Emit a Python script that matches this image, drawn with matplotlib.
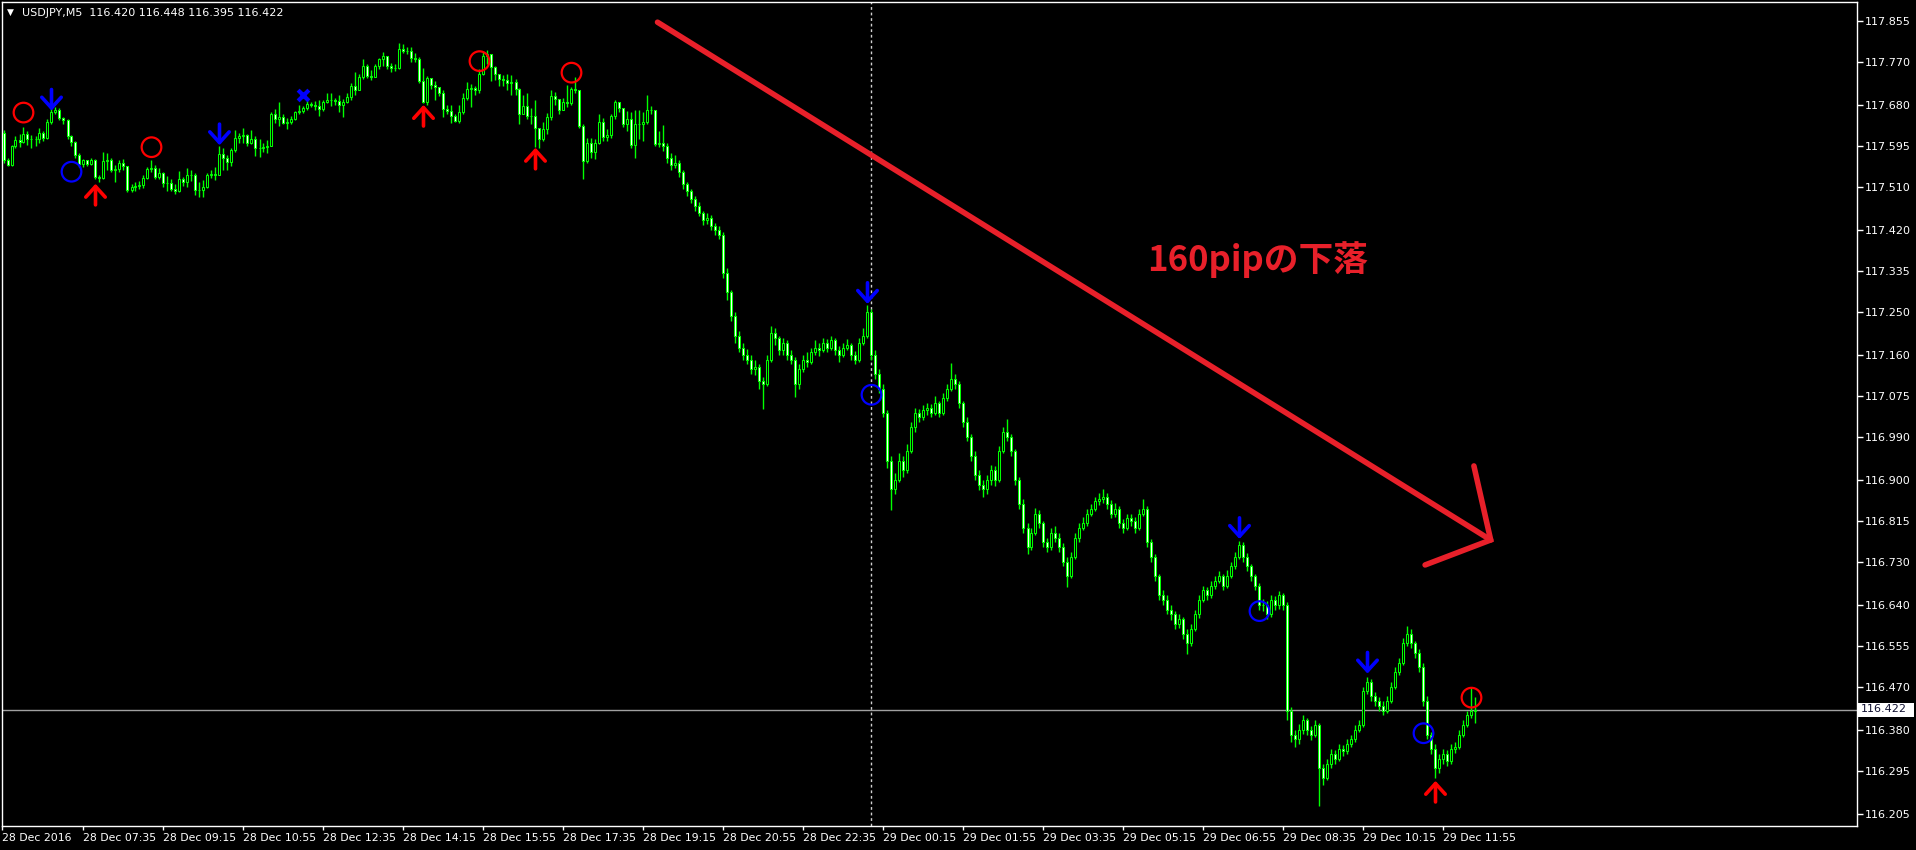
import matplotlib
matplotlib.use("Agg")
import matplotlib.pyplot as plt
from matplotlib.patches import Rectangle
import numpy as np

W, H = 1916, 850
BASE = 116.0
SCALE = 1000.0  # prices stored in points above 116.000

first_open = 1621
closes = [
    1565,1555,1594,1606,1603,1620,1608,1609,1608,1622,
    1611,1645,1665,1669,1652,1648,1615,1602,1576,1558,
    1565,1558,1565,1530,1527,1564,1566,1544,1546,1560,
    1552,1503,1510,1512,1513,1527,1546,1548,1530,1538,
    1518,1518,
    1504,1501,1526,1520,1534,1535,1502,1502,1510,1534,
    1537,1535,1577,1569,1561,1586,1612,1615,1617,1600,
    1609,1590,1590,1592,1595,1662,1651,1655,1643,1645,
    1650,1666,1668,1673,1682,1680,1678,1671,1687,1691,
    1690,
    1688,1680,1687,1696,1719,1711,1737,1761,1741,1739,
    1761,1775,1781,1760,1756,1756,1797,1793,1793,1777,
    1775,1730,1687,1735,1721,1718,1704,1671,1668,1657,
    1647,1666,1694,1712,1715,1710,1744,1782,1785,1758,
    1744,1733,1732,1726,1728,1714,1661,1677,1657,1657,
    1631,1610,1629,1655,1698,1693,1669,1687,1683,1712,
    1710,1636,1564,1600,1583,1600,1645,1614,1618,1657,
    1686,1673,1641,1650,1597,1641,1640,1645,1669,1670,
    1599,1600,1594,
    1570,1555,1560,1540,1515,1500,1485,1470,1455,1440,
    1445,1428,1420,1410,1330,1290,1240,1200,1175,1160,
    1150,1130,1135,1105,1100,1150,1205,1195,1170,1185,
    1160,1150,1100,1130,1150,1145,1165,1175,1170,1185,
    1175,1190,1170,1160,1175,1180,1160,1150,1185,1200,
    1250,1160,1120,1090,1040,940,880,900,940,920,
    960,1010,1040,1030,1045,1050,1040,1060,1040,1070,
    1090,1110,1100,1060,1020,990,950,910,890,880,
    900,920,900,960,1000,990,960,900,850,800,
    760,790,830,810,770,760,790,780,760,730,
    700,740,780,800,810,830,840,855,860,865,
    850,830,840,810,800,820,815,800,830,840,
    770,740,700,660,650,630,620,600,610,580,
    560,590,620,650,670,660,680,690,700,680,
    700,720,740,765,740,720,700,680,640,640,
    620,650,640,660,640,420,370,360,380,400,
    380,370,390,300,280,310,330,320,340,335,
    350,360,380,390,460,480,450,440,430,420,
    440,470,500,520,560,580,560,540,510,440,
    370,340,300,320,330,315,340,345,370,390,
    410,420,422,
]
highs = [
    1628,1570,1597,1615,1620,1635,1625,1618,1615,1632,
    1625,1650,1675,1676,1673,1655,1650,1618,1605,1580,
    1568,1566,1570,1568,1535,1583,1580,1570,1555,1565,
    1567,1545,1515,1520,1522,1535,1550,1565,1555,1548,
    1540,1532,
    1525,1515,1542,1530,1549,1544,1538,1520,1523,1538,
    1545,1550,1594,1590,1575,1590,1628,1622,1632,1620,
    1628,1615,1610,1600,1607,1665,1672,1685,1660,1652,
    1656,1668,1680,1678,1690,1685,1688,1690,1690,1704,
    1705,
    1695,1700,1692,1705,1725,1749,1745,1775,1765,1752,
    1765,1778,1790,1782,1768,1766,1809,1806,1800,1800,
    1787,1780,1756,1740,1735,1730,1716,1710,1680,1680,
    1660,1680,1705,1728,1723,1720,1755,1790,1795,1783,
    1760,1745,1742,1745,1742,1734,1716,1700,1704,1673,
    1690,1632,1645,1663,1710,1707,1690,1695,1721,1718,
    1738,1708,1640,1612,1612,1610,1660,1652,1630,1660,
    1691,1685,1672,1668,1665,1670,1670,1665,1700,1678,
    1670,1625,1638,
    1600,1580,1575,1565,1545,1520,1505,1490,1478,1460,
    1455,1450,1435,1428,1415,1340,1295,1250,1210,1185,
    1172,1160,1150,1140,1115,1160,1220,1215,1200,1195,
    1190,1170,1155,1140,1160,1165,1175,1190,1185,1195,
    1192,1200,1195,1178,1185,1192,1185,1168,1195,1215,
    1263,1255,1170,1130,1100,1045,950,915,955,950,
    975,1020,1050,1048,1055,1060,1058,1075,1065,1080,
    1100,1143,1120,1105,1065,1030,995,960,920,900,
    910,930,928,970,1009,1026,995,965,905,860,
    810,800,842,838,815,780,800,805,790,768,
    740,750,790,810,822,840,850,865,872,881,
    872,858,852,845,818,830,828,822,840,860,
    845,778,745,705,670,660,640,628,622,615,
    590,600,630,660,680,678,690,700,710,705,
    712,730,750,772,770,748,725,705,685,652,
    648,660,658,668,665,645,428,380,392,410,
    405,388,400,395,310,320,340,338,350,348,
    360,370,390,400,470,490,485,458,448,440,
    450,480,510,530,572,597,590,565,548,520,
    450,375,350,330,340,338,350,355,380,400,
    420,470,448,
]
lows = [
    1560,1552,1553,1590,1592,1600,1597,1590,1595,1600,
    1605,1608,1640,1660,1648,1640,1610,1595,1570,1550,
    1550,1553,1555,1525,1520,1525,1545,1540,1520,1540,
    1545,1498,1498,1500,1505,1508,1525,1540,1525,1525,
    1510,1501,
    1500,1494,1499,1512,1510,1522,1492,1488,1489,1508,
    1528,1523,1534,1545,1545,1553,1582,1600,1600,1595,
    1598,1574,1572,1583,1580,1594,1643,1636,1640,1629,
    1640,1648,1660,1663,1669,1675,1670,1657,1667,1683,
    1678,
    1680,1666,1655,1683,1690,1700,1710,1734,1735,1732,
    1738,1755,1760,1754,1748,1750,1755,1788,1786,1770,
    1770,1725,1684,1680,1714,1690,1699,1655,1660,1643,
    1645,1643,1660,1690,1676,1700,1705,1742,1765,1730,
    1732,1720,1720,1710,1700,1700,1640,1660,1650,1640,
    1593,1590,1605,1620,1648,1680,1660,1670,1676,1680,
    1705,1632,1525,1560,1570,1568,1598,1605,1605,1612,
    1650,1665,1635,1625,1590,1570,1610,1605,1640,1660,
    1595,1592,1585,
    1560,1545,1548,1530,1505,1490,1475,1460,1448,1430,
    1432,1420,1410,1400,1320,1275,1230,1185,1165,1150,
    1140,1120,1118,1090,1047,1095,1145,1180,1160,1160,
    1150,1140,1072,1090,1125,1135,1140,1160,1158,1165,
    1165,1170,1160,1145,1155,1170,1150,1140,1145,1180,
    1195,1150,1110,1080,1030,925,838,870,895,905,
    915,955,1000,1020,1025,1035,1030,1035,1030,1035,
    1065,1085,1090,1050,1010,980,940,900,878,865,
    870,890,888,895,955,980,950,890,840,790,
    745,755,785,800,760,750,755,770,750,720,
    678,695,735,770,795,805,825,835,848,852,
    840,820,822,800,790,795,805,790,795,825,
    760,730,690,650,640,620,608,590,592,570,
    538,555,585,612,645,650,655,672,685,670,
    675,695,715,735,730,710,690,670,630,628,
    610,615,630,632,630,400,355,345,350,372,
    370,358,365,221,265,275,300,310,315,325,
    330,345,355,375,385,455,440,430,420,410,
    415,435,465,495,515,555,550,530,500,430,
    360,330,280,290,310,305,310,332,340,365,
    385,405,395,
]

# signal markers (bar index, price in points)
red_circle_bars = [5, 37, 119, 142, 367]
red_circle_pts = [1664, 1592, 1771, 1747, 447]
blue_circle_bars = [17, 217, 314, 355]
blue_circle_pts = [1541, 1077, 627, 373]
blue_down_bars = [12, 54, 216, 309, 341]
blue_down_tips = [1668, 1596, 1266, 777, 497]
red_up_bars = [23, 105, 133, 358]
red_up_tips = [1516, 1680, 1591, 274]
blue_x_bars = [75]
blue_x_pts = [1700]

# hand-drawn trend arrow (bar index, price in points)
trend_start = (163.5, 1852)
trend_end = (371.8, 775)
head_a = (367.6, 929)
head_b = (355.4, 723)
annot_pos = (313.5, 1359)
annot_text = "160pipの下落"

y_ticks = [117.855, 117.770, 117.680, 117.595, 117.510, 117.420, 117.335,
           117.250, 117.160, 117.075, 116.990, 116.900, 116.815, 116.730,
           116.640, 116.555, 116.470, 116.380, 116.295, 116.205]
x_tick_bars = [-0.375, 20, 40, 60, 80, 100, 120, 140, 160, 180, 200, 220,
               240, 260, 280, 300, 320, 340, 360]
x_tick_labels = ["28 Dec 2016", "28 Dec 07:35", "28 Dec 09:15", "28 Dec 10:55",
                 "28 Dec 12:35", "28 Dec 14:15", "28 Dec 15:55", "28 Dec 17:35",
                 "28 Dec 19:15", "28 Dec 20:55", "28 Dec 22:35", "29 Dec 00:15",
                 "29 Dec 01:55", "29 Dec 03:35", "29 Dec 05:15", "29 Dec 06:55",
                 "29 Dec 08:35", "29 Dec 10:15", "29 Dec 11:55"]
day_separator_bar = 217
last_price = 116.422
header = "USDJPY,M5  116.420 116.448 116.395 116.422"

assert len(closes) == len(highs) == len(lows)

def P(v):
    return BASE + np.asarray(v, dtype=float) / SCALE

c = P(closes)
o = np.concatenate([[P(first_open)], c[:-1]])
h = np.maximum(P(highs), np.maximum(o, c))
l = np.minimum(P(lows), np.minimum(o, c))
x = np.arange(len(c))

LIME = "#00ff00"
fig = plt.figure(figsize=(W / 100, H / 100), dpi=100, facecolor="black")
ax = fig.add_axes([2 / W, 1 - 826 / H, (1856.7 - 2) / W, (826 - 2) / H], facecolor="black")
ax.set_xlim(-0.375, 463.3)
ax.set_ylim(116.180, 117.894)

for s in ax.spines.values():
    s.set_color("white")
    s.set_linewidth(1)

# day separator & current price line
ax.axvline(day_separator_bar, color="#d0d0d0", lw=1, ls=(0, (2, 2)), zorder=1)
ax.axhline(last_price, color="#a0a0a0", lw=1, zorder=1)

# candles
ax.vlines(x, l, h, color=LIME, lw=1, zorder=2)
up = c > o
ax.bar(x, np.abs(c - o), bottom=np.minimum(o, c), width=0.5,
       color=["black" if u else "white" for u in up],
       edgecolor=LIME, linewidth=0.75, zorder=3)

# signal markers
ax.scatter(red_circle_bars, P(red_circle_pts), s=200, facecolors="none",
           edgecolors="#ff0000", linewidths=1.6, zorder=5)
ax.scatter(blue_circle_bars, P(blue_circle_pts), s=200, facecolors="none",
           edgecolors="#0000ff", linewidths=1.6, zorder=5)
ax.scatter(blue_x_bars, P(blue_x_pts), s=60, marker="x", color="#0000ff",
           linewidths=3, zorder=5)
arrow_len = 44
for b, t in zip(blue_down_bars, blue_down_tips):
    ax.annotate("", xy=(b, P(t)), xytext=(b, P(t + arrow_len)),
                arrowprops=dict(arrowstyle="->,head_length=0.55,head_width=0.5",
                                color="#0000ff", lw=2.6, shrinkA=0, shrinkB=0,
                                mutation_scale=14), zorder=6)
for b, t in zip(red_up_bars, red_up_tips):
    ax.annotate("", xy=(b, P(t)), xytext=(b, P(t - arrow_len)),
                arrowprops=dict(arrowstyle="->,head_length=0.55,head_width=0.5",
                                color="#ff0000", lw=2.6, shrinkA=0, shrinkB=0,
                                mutation_scale=14), zorder=6)

# trend arrow
RED = "#e8202a"
ax.plot([trend_start[0], trend_end[0]], P([trend_start[1], trend_end[1]]),
        color=RED, lw=4.0, solid_capstyle="round", zorder=7)
ax.plot([head_a[0], trend_end[0], head_b[0]], P([head_a[1], trend_end[1], head_b[1]]),
        color=RED, lw=4.0, solid_capstyle="round", solid_joinstyle="miter", zorder=7)
ax.text(annot_pos[0], P(annot_pos[1]), annot_text, color=RED, fontsize=25,
        fontweight="bold", family=["Noto Sans CJK JP", "DejaVu Sans"],
        ha="center", va="center", zorder=8)

# axes ticks
ax.yaxis.tick_right()
ax.set_yticks(y_ticks)
ax.set_yticklabels([f"{v:.3f}" for v in y_ticks])
ax.tick_params(axis="y", colors="white", length=4, width=1, pad=2, labelsize=8)
ax.set_xticks(x_tick_bars)
ax.set_xticklabels(x_tick_labels, ha="left")
ax.tick_params(axis="x", colors="white", length=3, width=1, pad=2, labelsize=7.8)

# current price label box
fig.add_artist(Rectangle((1857.7 / W, 1 - 716.5 / H), 56 / W, 14 / H,
                         transform=fig.transFigure, facecolor="white",
                         edgecolor="white", lw=0))
fig.text(1861 / W, 1 - 709.5 / H, f"{last_price:.3f}", color="#101030",
         fontsize=8, va="center", ha="left")

# header
fig.text(7 / W, 1 - 12 / H, "▼", color="white", fontsize=6.5, va="center", ha="left")
fig.text(21.5 / W, 1 - 12.5 / H, header, color="white", fontsize=8, va="center", ha="left")

fig.savefig("out.png", dpi=100, facecolor="black")
